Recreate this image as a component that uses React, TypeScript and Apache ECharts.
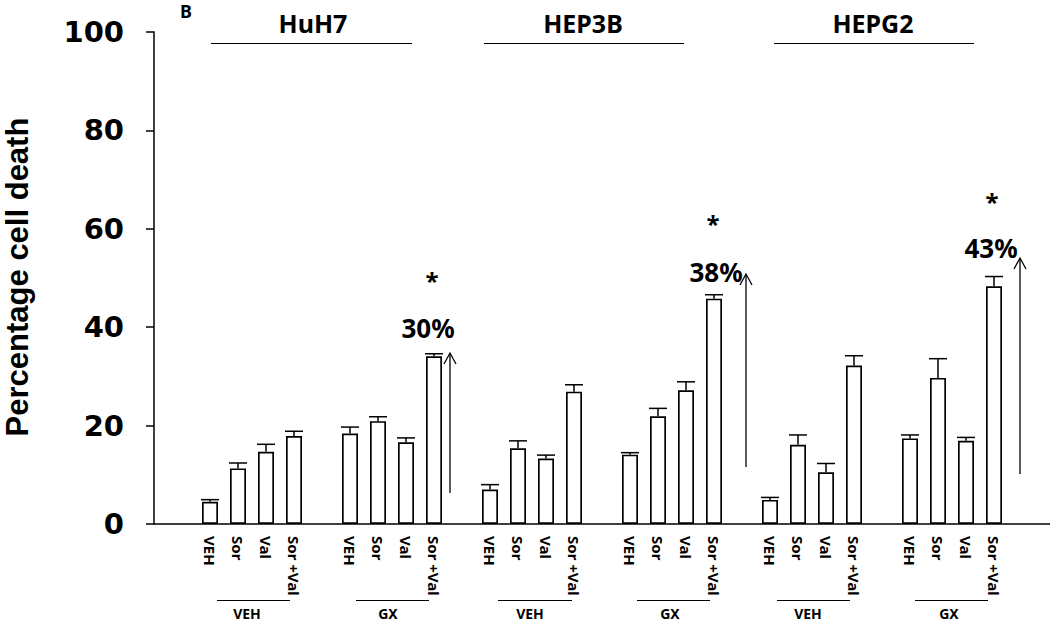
import React, { useEffect, useRef } from "react";
import * as echarts from "echarts";

// ---- data ----
const cellLines = ["HuH7", "HEP3B", "HEPG2"];
const pretreatments = ["VEH", "GX"];
const treatments = ["VEH", "Sor", "Val", "Sor +Val"];

// mean percentage cell death, per cell line, per pretreatment (VEH, GX), per treatment
const huh7Values = [[4.5, 11.3, 14.7, 17.9], [18.4, 20.9, 16.6, 34.1]];
const hep3bValues = [[7.0, 15.4, 13.3, 26.9], [14.1, 21.9, 27.2, 45.8]];
const hepg2Values = [[4.9, 16.1, 10.5, 32.2], [17.4, 29.7, 16.9, 48.3]];

const huh7Errors = [[0.45, 1.1, 1.5, 0.95], [1.3, 0.9, 0.9, 0.5]];
const hep3bErrors = [[1.0, 1.5, 0.7, 1.4], [0.4, 1.6, 1.7, 0.8]];
const hepg2Errors = [[0.5, 2.0, 1.8, 2.0], [0.7, 3.9, 0.7, 2.0]];

const increaseLabels = ["30%", "38%", "43%"];
const yTicks = { min: 0, max: 100, interval: 20 };

const allValues = [huh7Values, hep3bValues, hepg2Values];
const allErrors = [huh7Errors, hep3bErrors, hepg2Errors];

// category layout: 2 blank slots, then groups of 4 bars separated by one blank slot
const N_CATS = 33;
function buildSeries() {
  const labels: string[] = new Array(N_CATS).fill("");
  const bars: any[] = new Array(N_CATS).fill(null);
  const errs: any[] = [];
  cellLines.forEach((_, c) => {
    pretreatments.forEach((_, p) => {
      const start = 2 + (c * 2 + p) * 5;
      treatments.forEach((t, i) => {
        const k = start + i;
        labels[k] = t;
        bars[k] = allValues[c][p][i];
        errs.push([k, allValues[c][p][i], allErrors[c][p][i]]);
      });
    });
  });
  return { labels, bars, errs };
}

export default function App() {
  const ref = useRef<HTMLDivElement>(null);
  useEffect(() => {
    if (!ref.current) return;
    const chart = echarts.init(ref.current, null, { renderer: "svg" });
    const { labels, bars, errs } = buildSeries();
    const black = "#000";
    const hdrFont = { fontFamily: "Noto Sans", fontWeight: "bold" as const, fill: black };

    const graphics: any[] = [];
    // Y axis title
    graphics.push({
      type: "text", x: 17, y: 277, rotation: Math.PI / 2,
      style: { text: "Percentage cell death", fontFamily: "Liberation Sans", fontWeight: "bold", fontSize: 31, fill: black, align: "center", verticalAlign: "middle" },
    });
    graphics.push({ type: "text", x: 186, y: 11, style: { ...hdrFont, text: "B", fontSize: 18, align: "center", verticalAlign: "middle" } });

    // cell-line headers
    const hdr = [
      { cx: 313, x1: 211, x2: 412 },
      { cx: 583, x1: 484, x2: 684 },
      { cx: 873, x1: 774, x2: 974 },
    ];
    hdr.forEach((h, i) => {
      graphics.push({ type: "text", x: h.cx, y: 23, style: { ...hdrFont, text: cellLines[i], fontSize: 25, align: "center", verticalAlign: "middle" } });
      graphics.push({ type: "line", shape: { x1: h.x1, y1: 43.5, x2: h.x2, y2: 43.5 }, style: { stroke: black, lineWidth: 1 } });
    });

    // pretreatment sub-groups below the axis
    const sub = [
      { x1: 217, x2: 290, lx: 247 },
      { x1: 356, x2: 429, lx: 388 },
      { x1: 498, x2: 572, lx: 530 },
      { x1: 637, x2: 710, lx: 670 },
      { x1: 777, x2: 850, lx: 808 },
      { x1: 915, x2: 988, lx: 949 },
    ];
    sub.forEach((s, i) => {
      graphics.push({ type: "line", shape: { x1: s.x1, y1: 600.5, x2: s.x2, y2: 600.5 }, style: { stroke: black, lineWidth: 1 } });
      graphics.push({ type: "text", x: s.lx, y: 613, style: { ...hdrFont, text: pretreatments[i % 2], fontSize: 14, align: "center", verticalAlign: "middle" } });
    });

    // arrows, percentages and stars
    const ann = [
      { ax: 450, ay1: 493, ay2: 353, px: 428, py: 328, sx: 432, sy: 280 },
      { ax: 746, ay1: 467, ay2: 274, px: 716, py: 272, sx: 713, sy: 223 },
      { ax: 1020, ay1: 474, ay2: 258, px: 991, py: 248, sx: 992, sy: 201 },
    ];
    ann.forEach((a, i) => {
      graphics.push({ type: "line", shape: { x1: a.ax, y1: a.ay1, x2: a.ax, y2: a.ay2 }, style: { stroke: black, lineWidth: 1.3 } });
      graphics.push({ type: "polyline", shape: { points: [[a.ax - 6, a.ay2 + 11], [a.ax, a.ay2], [a.ax + 6, a.ay2 + 11]] }, style: { stroke: black, lineWidth: 1.3, fill: "none" } });
      graphics.push({ type: "text", x: a.px, y: a.py, style: { ...hdrFont, text: increaseLabels[i], fontSize: 26, align: "center", verticalAlign: "middle" } });
      graphics.push({ type: "text", x: a.sx, y: a.sy, style: { ...hdrFont, text: "*", fontSize: 24, align: "center", verticalAlign: "middle" } });
    });

    chart.setOption({
      animation: false,
      backgroundColor: "#fff",
      grid: { left: 154, right: 0, top: 32, bottom: 99, containLabel: false },
      xAxis: {
        type: "category",
        data: labels,
        boundaryGap: false,
        axisLine: { lineStyle: { color: black, width: 1.5 } },
        axisTick: { show: false },
        axisLabel: {
          interval: 0, rotate: -90, margin: 12, color: black,
          fontFamily: "Noto Sans", fontWeight: "bold", fontSize: 15,
        },
        splitLine: { show: false },
      },
      yAxis: {
        type: "value",
        min: yTicks.min, max: yTicks.max, interval: yTicks.interval,
        axisLine: { show: true, lineStyle: { color: black, width: 1.5 } },
        axisTick: { show: true, inside: false, length: 8, lineStyle: { color: black, width: 1.5 } },
        axisLabel: { margin: 30, color: black, fontFamily: "DejaVu Sans", fontWeight: "bold", fontSize: 29 },
        splitLine: { show: false },
      },
      series: [
        {
          type: "bar",
          data: bars,
          barWidth: 16,
          itemStyle: { color: "#fff", borderColor: black, borderWidth: 1.7 },
          silent: true,
        },
        {
          type: "custom",
          data: errs,
          silent: true,
          z: 5,
          renderItem: (params: any, api: any) => {
            const k = api.value(0);
            const v = api.value(1);
            const e = api.value(2);
            const p0 = api.coord([k, v]);
            const p1 = api.coord([k, v + e]);
            return {
              type: "group",
              children: [
                { type: "line", shape: { x1: p0[0], y1: p0[1], x2: p1[0], y2: p1[1] }, style: { stroke: black, lineWidth: 1.5 } },
                { type: "line", shape: { x1: p1[0] - 9, y1: p1[1], x2: p1[0] + 9, y2: p1[1] }, style: { stroke: black, lineWidth: 1.5 } },
              ],
            };
          },
        },
      ],
      graphic: graphics,
    });
    return () => chart.dispose();
  }, []);
  return <div ref={ref} style={{ position: "absolute", left: 0, top: 0, width: 1050, height: 623 }} />;
}
